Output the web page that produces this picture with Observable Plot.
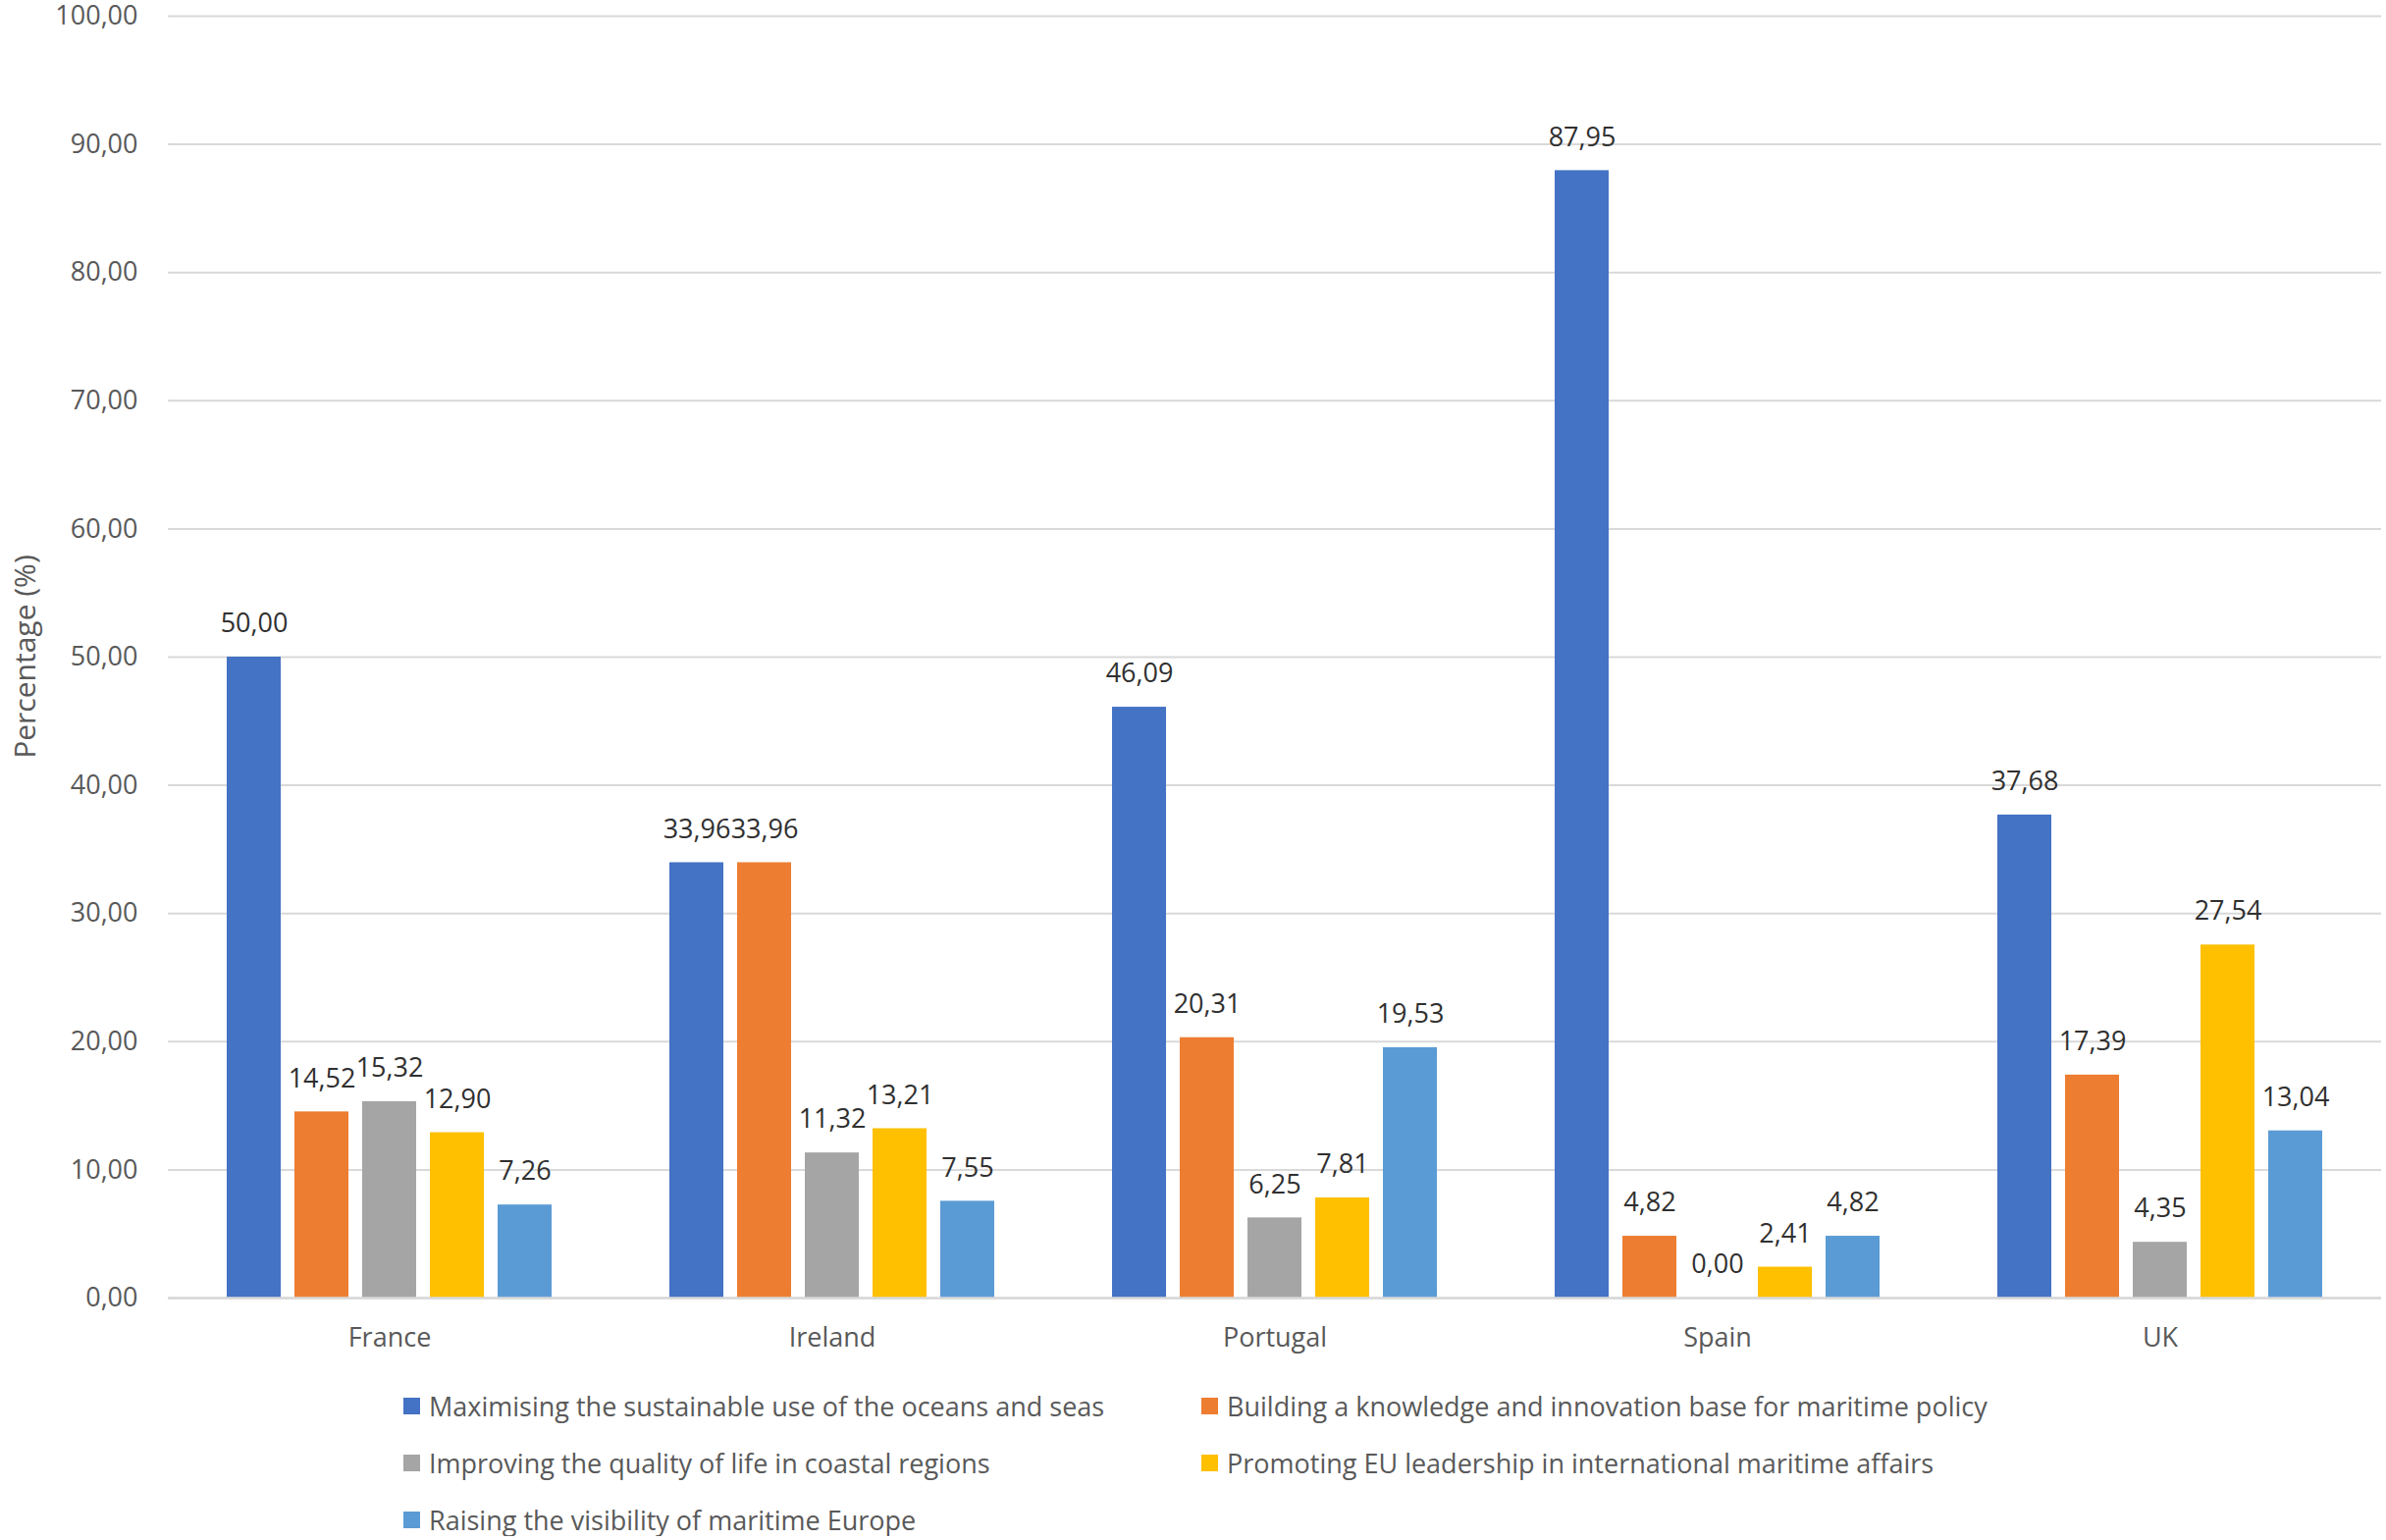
<!DOCTYPE html>
<html><head><meta charset="utf-8">
<script src="https://cdn.jsdelivr.net/npm/d3@7"></script>
<script src="https://cdn.jsdelivr.net/npm/@observablehq/plot@0.6"></script>
<style>
html,body{margin:0;padding:0;background:#fff;overflow:hidden}
#wrap{position:relative;width:2431px;font-family:"Open Sans",sans-serif}
#legend{position:relative;height:165px}
.item{position:absolute;display:flex;align-items:center;height:36px;font-size:27px;color:#595959;white-space:nowrap}
.sw{width:17px;height:17px;margin-right:9px;flex:none}
#ylabel{position:absolute;left:24px;top:669px;transform:translate(-50%,-50%) rotate(-90deg);font-size:30px;color:#595959;white-space:nowrap}
</style></head><body><div id="wrap"><div id="chart"></div><div id="ylabel"></div><div id="legend"></div></div>
<script>
const countries = ["France", "Ireland", "Portugal", "Spain", "UK"];
const series = [
  "Maximising the sustainable use of the oceans and seas",
  "Building a knowledge and innovation base for maritime policy",
  "Improving the quality of life in coastal regions",
  "Promoting EU leadership in international maritime affairs",
  "Raising the visibility of maritime Europe"
];
const colors = ["#4472C4", "#ED7D31", "#A5A5A5", "#FFC000", "#5B9BD5"];
const maximising = [50.00, 33.96, 46.09, 87.95, 37.68];
const building   = [14.52, 33.96, 20.31, 4.82, 17.39];
const improving  = [15.32, 11.32, 6.25, 0.00, 4.35];
const promoting  = [12.90, 13.21, 7.81, 2.41, 27.54];
const raising    = [7.26, 7.55, 19.53, 4.82, 13.04];
const yTicks = [0, 10, 20, 30, 40, 50, 60, 70, 80, 90, 100];
const yLabel = "Percentage (%)";

const valuesBySeries = [maximising, building, improving, promoting, raising];
const data = [];
countries.forEach((c, i) => {
  series.forEach((s, j) => data.push({country: c, series: s, value: valuesBySeries[j][i]}));
});
const fmt = v => v.toFixed(2).replace(".", ",");

const chart = Plot.plot({
  width: 2431,
  height: 1400,
  marginLeft: 169,
  marginRight: 3,
  marginTop: 16,
  marginBottom: 78,
  style: {fontFamily: '"Open Sans", sans-serif', fontSize: "27px", background: "#fff", overflow: "visible"},
  fx: {domain: countries, padding: 0},
  x: {domain: series, paddingInner: 0.209, paddingOuter: 0.849, axis: null},
  y: {domain: [0, 100]},
  color: {domain: series, range: colors},
  marks: [
    Plot.gridY(yTicks, {stroke: "#d9d9d9", strokeOpacity: 1, strokeWidth: 2}),
    Plot.barY(data, {fx: "country", x: "series", y: "value", fill: "series", insetLeft: 0, insetRight: 0}),
    Plot.ruleY([0], {stroke: "#d9d9d9", strokeWidth: 2.5}),
    Plot.text(data, {fx: "country", x: "series", y: "value", text: d => fmt(d.value), dy: -34, fill: "#303030", fontSize: 27}),
    Plot.axisY(yTicks, {tickSize: 0, tickPadding: 31, tickFormat: fmt, fill: "#595959", fontSize: 27, label: null}),
    Plot.axisFx({anchor: "bottom", tickSize: 0, tickPadding: 30, fill: "#595959", fontSize: 27, label: null})
  ]
});
document.getElementById("chart").appendChild(chart);
document.getElementById("ylabel").textContent = yLabel;

const legend = document.getElementById("legend");
const lefts = [411, 1224];
const tops = [14, 72, 130];
series.forEach((s, j) => {
  const it = document.createElement("div");
  it.className = "item";
  it.style.left = lefts[j % 2] + "px";
  it.style.top = tops[Math.floor(j / 2)] + "px";
  const sw = document.createElement("span");
  sw.className = "sw";
  sw.style.background = colors[j];
  const tx = document.createElement("span");
  tx.textContent = s;
  it.appendChild(sw); it.appendChild(tx);
  legend.appendChild(it);
});
</script></body></html>
